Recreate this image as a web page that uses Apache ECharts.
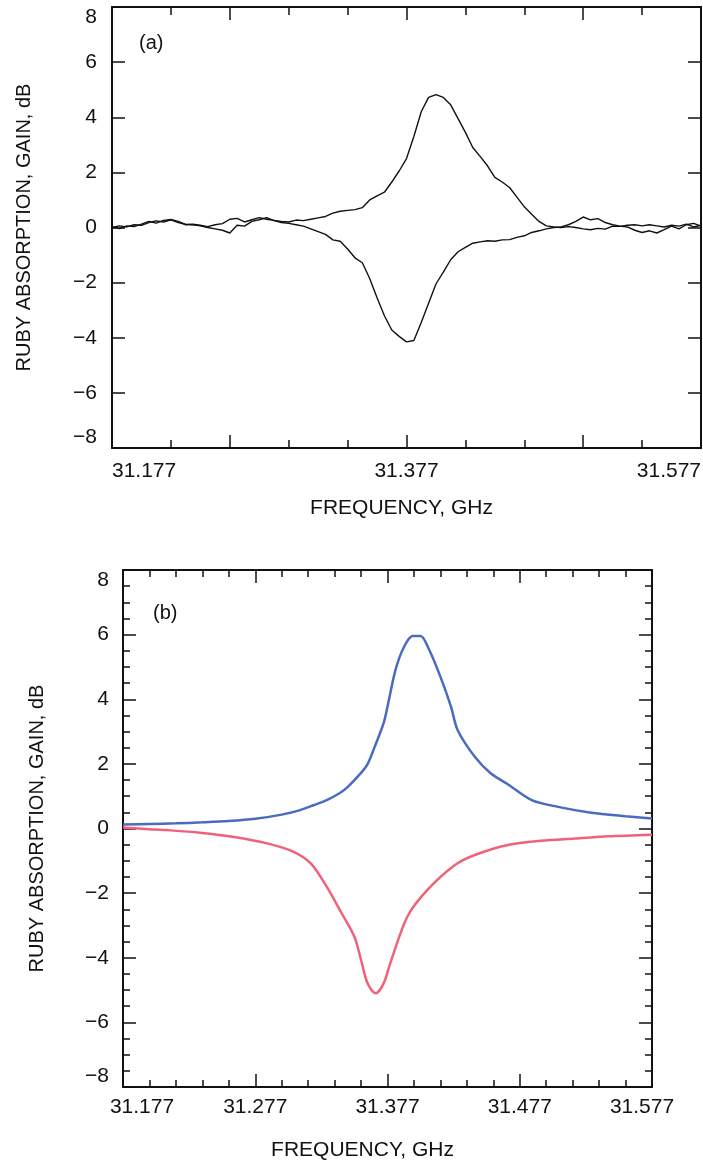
<!DOCTYPE html>
<html>
<head>
<meta charset="utf-8">
<script src="https://cdn.jsdelivr.net/npm/echarts@6/dist/echarts.min.js"></script>
<style>
  html, body { margin: 0; padding: 0; background: #fff; }
  #chart { width: 703px; height: 1166px; }
</style>
</head>
<body>
<div id="chart"></div>
<script>
// (a) measured traces, sampled every 0.005 GHz
var freqA = [
  31.177, 31.182, 31.187, 31.192, 31.197, 31.202, 31.207, 31.212, 31.217, 31.222,
  31.227, 31.232, 31.237, 31.242, 31.247, 31.252, 31.257, 31.262, 31.267, 31.272,
  31.277, 31.282, 31.287, 31.292, 31.297, 31.302, 31.307, 31.312, 31.317, 31.322,
  31.327, 31.332, 31.337, 31.342, 31.347, 31.352, 31.357, 31.362, 31.367, 31.372,
  31.377, 31.382, 31.387, 31.392, 31.397, 31.402, 31.407, 31.412, 31.417, 31.422,
  31.427, 31.432, 31.437, 31.442, 31.447, 31.452, 31.457, 31.462, 31.467, 31.472,
  31.477, 31.482, 31.487, 31.492, 31.497, 31.502, 31.507, 31.512, 31.517, 31.522,
  31.527, 31.532, 31.537, 31.542, 31.547, 31.552, 31.557, 31.562, 31.567, 31.572,
  31.577
]
var gainA = [
  0.02, -0.04, 0.06, 0.03, 0.12, 0.22, 0.16, 0.26, 0.29, 0.22,
  0.10, 0.12, 0.08, 0.03, 0.10, 0.14, 0.30, 0.33, 0.20, 0.28,
  0.36, 0.30, 0.26, 0.22, 0.20, 0.27, 0.25, 0.30, 0.35, 0.40,
  0.52, 0.59, 0.62, 0.65, 0.72, 1.00, 1.15, 1.28, 1.65, 2.05,
  2.50, 3.30, 4.20, 4.72, 4.82, 4.72, 4.45, 3.95, 3.45, 2.90,
  2.58, 2.24, 1.82, 1.65, 1.45, 1.10, 0.75, 0.48, 0.22, 0.06,
  0.02, 0.00, 0.03, 0.00, -0.05, -0.08, -0.03, -0.06, 0.05, 0.04,
  0.08, 0.10, 0.06, 0.10, 0.06, 0.02, 0.08, 0.05, 0.12, 0.02,
  0.08
]
var absA = [
  0.00, 0.06, 0.02, 0.10, 0.08, 0.18, 0.24, 0.20, 0.28, 0.18,
  0.12, 0.10, 0.06, 0.00, -0.05, -0.10, -0.20, 0.08, 0.05, 0.22,
  0.28, 0.36, 0.25, 0.18, 0.15, 0.10, 0.05, -0.05, -0.15, -0.25,
  -0.45, -0.50, -0.78, -1.10, -1.28, -1.85, -2.55, -3.20, -3.72, -3.95,
  -4.15, -4.10, -3.45, -2.75, -2.05, -1.62, -1.17, -0.88, -0.72, -0.57,
  -0.52, -0.48, -0.50, -0.45, -0.44, -0.36, -0.30, -0.18, -0.12, -0.05,
  0.00, 0.02, 0.10, 0.22, 0.38, 0.28, 0.32, 0.18, 0.10, 0.05,
  0.02, -0.10, -0.18, -0.12, -0.20, -0.08, 0.05, -0.05, 0.10, 0.15,
  0.05
]

// (b) calculated curves
var freqGainB = [
  31.177, 31.197, 31.217, 31.237, 31.257, 31.277, 31.297, 31.311, 31.321, 31.331,
  31.341, 31.347, 31.357, 31.362, 31.368, 31.374, 31.377, 31.383, 31.389, 31.396,
  31.402, 31.408, 31.417, 31.425, 31.430, 31.443, 31.455, 31.468, 31.486, 31.506,
  31.531, 31.557, 31.577
]
var gainB = [
  0.12, 0.14, 0.16, 0.19, 0.23, 0.30, 0.43, 0.57, 0.72, 0.88,
  1.10, 1.29, 1.72, 2.00, 2.60, 3.25, 3.77, 4.90, 5.58, 5.96,
  5.96, 5.58, 4.70, 3.77, 3.05, 2.22, 1.71, 1.37, 0.88, 0.67,
  0.49, 0.38, 0.31
]
var freqAbsB = [
  31.177, 31.197, 31.210, 31.235, 31.261, 31.286, 31.306, 31.319, 31.331, 31.342,
  31.352, 31.357, 31.362, 31.368, 31.374, 31.379, 31.392, 31.407, 31.428, 31.443,
  31.468, 31.493, 31.519, 31.544, 31.577
]
var absB = [
  0.03, -0.02, -0.05, -0.13, -0.26, -0.46, -0.72, -1.08, -1.80, -2.60,
  -3.35, -4.07, -4.80, -5.10, -4.80, -4.18, -2.73, -1.91, -1.13, -0.82,
  -0.51, -0.38, -0.31, -0.24, -0.19
]

var labelsA = [31.177, 31.377, 31.577]
var minorTicksA = [31.217, 31.297, 31.337, 31.417, 31.457, 31.537]
var majorTicksA = [31.257, 31.377, 31.497]

var FONT = '"Liberation Sans", Arial, Helvetica, sans-serif'
var black = '#111'

function pairs(xs, ys) {
  return xs.map(function(x, i) { return [x, ys[i]] })
}
function minus(v) {
  return v < 0 ? '\u2212' + Math.abs(v) : String(v)
}

var line = { show: true, onZero: false, lineStyle: { color: black, width: 2 } }
var noLine = { show: false, onZero: false }
var lbl = { fontFamily: FONT, fontSize: 21, color: black }
var nameStyle = { fontFamily: FONT, fontSize: 21, color: black }

function xBase(grid, pos) {
  return {
    type: 'value', gridIndex: grid, position: pos,
    min: 31.177, max: 31.577,
    splitLine: { show: false },
    axisLine: noLine,
    axisLabel: { show: false },
    axisTick: { show: false }
  }
}

var xAxes = [
  // (a) bottom: short ticks + labels
  Object.assign(xBase(0, 'bottom'), {
    axisLine: line,
    axisTick: { show: true, inside: true, length: 8, customValues: minorTicksA, lineStyle: { color: black, width: 1.5 } },
    axisLabel: Object.assign({
      show: true, customValues: labelsA, margin: 13,
      alignMinLabel: 'left', alignMaxLabel: 'right',
      formatter: function(v) { return Number(v).toFixed(3) }
    }, lbl),
    name: 'FREQUENCY, GHz', nameLocation: 'middle', nameGap: 50, nameMoveOverlap: false,
    nameTextStyle: Object.assign({ padding: [0, 10, 0, 0] }, nameStyle)
  }),
  // (a) bottom: long ticks
  Object.assign(xBase(0, 'bottom'), {
    axisTick: { show: true, inside: true, length: 13, customValues: majorTicksA, lineStyle: { color: black, width: 1.5 } }
  }),
  Object.assign(xBase(0, 'top'), {
    axisLine: line,
    axisTick: { show: true, inside: true, length: 8, customValues: minorTicksA, lineStyle: { color: black, width: 1.5 } }
  }),
  Object.assign(xBase(0, 'top'), {
    axisTick: { show: true, inside: true, length: 13, customValues: majorTicksA, lineStyle: { color: black, width: 1.5 } }
  }),
  // (b)
  Object.assign(xBase(1, 'bottom'), {
    interval: 0.1,
    axisLine: line,
    axisTick: { show: true, inside: true, length: 13, lineStyle: { color: black, width: 1.5 } },
    minorTick: { show: true, splitNumber: 5, length: 7, lineStyle: { color: black, width: 1.5 } },
    axisLabel: Object.assign({
      show: true, margin: 10,
      formatter: function(v) {
        var s = Number(v).toFixed(3)
        if (Math.abs(v - 31.177) < 1e-6) return '{l|' + s + '}'
        if (Math.abs(v - 31.577) < 1e-6) return '{r|' + s + '}'
        return s
      },
      rich: {
        l: { fontFamily: FONT, fontSize: 21, color: black, padding: [0, 0, 0, 38] },
        r: { fontFamily: FONT, fontSize: 21, color: black, padding: [0, 20, 0, 0] }
      }
    }, lbl),
    name: 'FREQUENCY, GHz', nameLocation: 'middle', nameGap: 53, nameMoveOverlap: false,
    nameTextStyle: Object.assign({ padding: [0, 50, 0, 0] }, nameStyle)
  }),
  Object.assign(xBase(1, 'top'), {
    interval: 0.1,
    axisLine: line,
    axisTick: { show: true, inside: true, length: 13, lineStyle: { color: black, width: 1.5 } },
    minorTick: { show: true, splitNumber: 5, length: 7, lineStyle: { color: black, width: 1.5 } }
  })
]

function yAxis(grid, pos, withLabels, minor, gap, margin) {
  var ax = {
    type: 'value', gridIndex: grid, position: pos,
    min: -8, max: 8, interval: 2,
    splitLine: { show: false },
    axisLine: line,
    axisTick: { show: true, inside: true, length: 13, lineStyle: { color: black, width: 1.5 } },
    minorTick: { show: minor, splitNumber: 4, length: 7, lineStyle: { color: black, width: 1.5 } },
    axisLabel: Object.assign({
      show: withLabels, margin: margin, formatter: minus,
      verticalAlignMinLabel: 'bottom', verticalAlignMaxLabel: 'top'
    }, lbl)
  }
  if (withLabels) {
    ax.name = 'RUBY ABSORPTION, GAIN, dB'
    ax.nameLocation = 'middle'
    ax.nameGap = gap
    ax.nameMoveOverlap = false
    ax.nameTextStyle = Object.assign({}, nameStyle, { fontSize: 20 })
  }
  return ax
}

var chart = echarts.init(document.getElementById('chart'), null, { renderer: 'canvas' })
chart.setOption({
  animation: false,
  backgroundColor: '#fff',
  textStyle: { fontFamily: FONT },
  grid: [
    { left: 112, top: 7, width: 589, height: 441, outerBoundsMode: 'none' },
    { left: 123, top: 570, width: 529, height: 517, outerBoundsMode: 'none' }
  ],
  xAxis: xAxes,
  yAxis: [
    yAxis(0, 'left', true, false, 78, 15),
    yAxis(0, 'right', false, false),
    yAxis(1, 'left', true, true, 76, 14),
    yAxis(1, 'right', false, true)
  ],
  graphic: [
    { type: 'text', left: 139, top: 33, style: { text: '(a)', font: '20px ' + FONT, fill: black } },
    { type: 'text', left: 153, top: 603, style: { text: '(b)', font: '20px ' + FONT, fill: black } }
  ],
  series: [
    {
      name: 'gain (a)', type: 'line', xAxisIndex: 0, yAxisIndex: 0,
      data: pairs(freqA, gainA), showSymbol: false,
      lineStyle: { color: black, width: 1.4 }
    },
    {
      name: 'absorption (a)', type: 'line', xAxisIndex: 0, yAxisIndex: 0,
      data: pairs(freqA, absA), showSymbol: false,
      lineStyle: { color: black, width: 1.4 }
    },
    {
      name: 'gain (b)', type: 'line', xAxisIndex: 4, yAxisIndex: 2,
      data: pairs(freqGainB, gainB), showSymbol: false, smooth: 0.3,
      lineStyle: { color: '#4a6bbf', width: 2.5 }
    },
    {
      name: 'absorption (b)', type: 'line', xAxisIndex: 4, yAxisIndex: 2,
      data: pairs(freqAbsB, absB), showSymbol: false, smooth: 0.3,
      lineStyle: { color: '#f0627a', width: 2.5 }
    }
  ]
})
</script>
</body>
</html>
